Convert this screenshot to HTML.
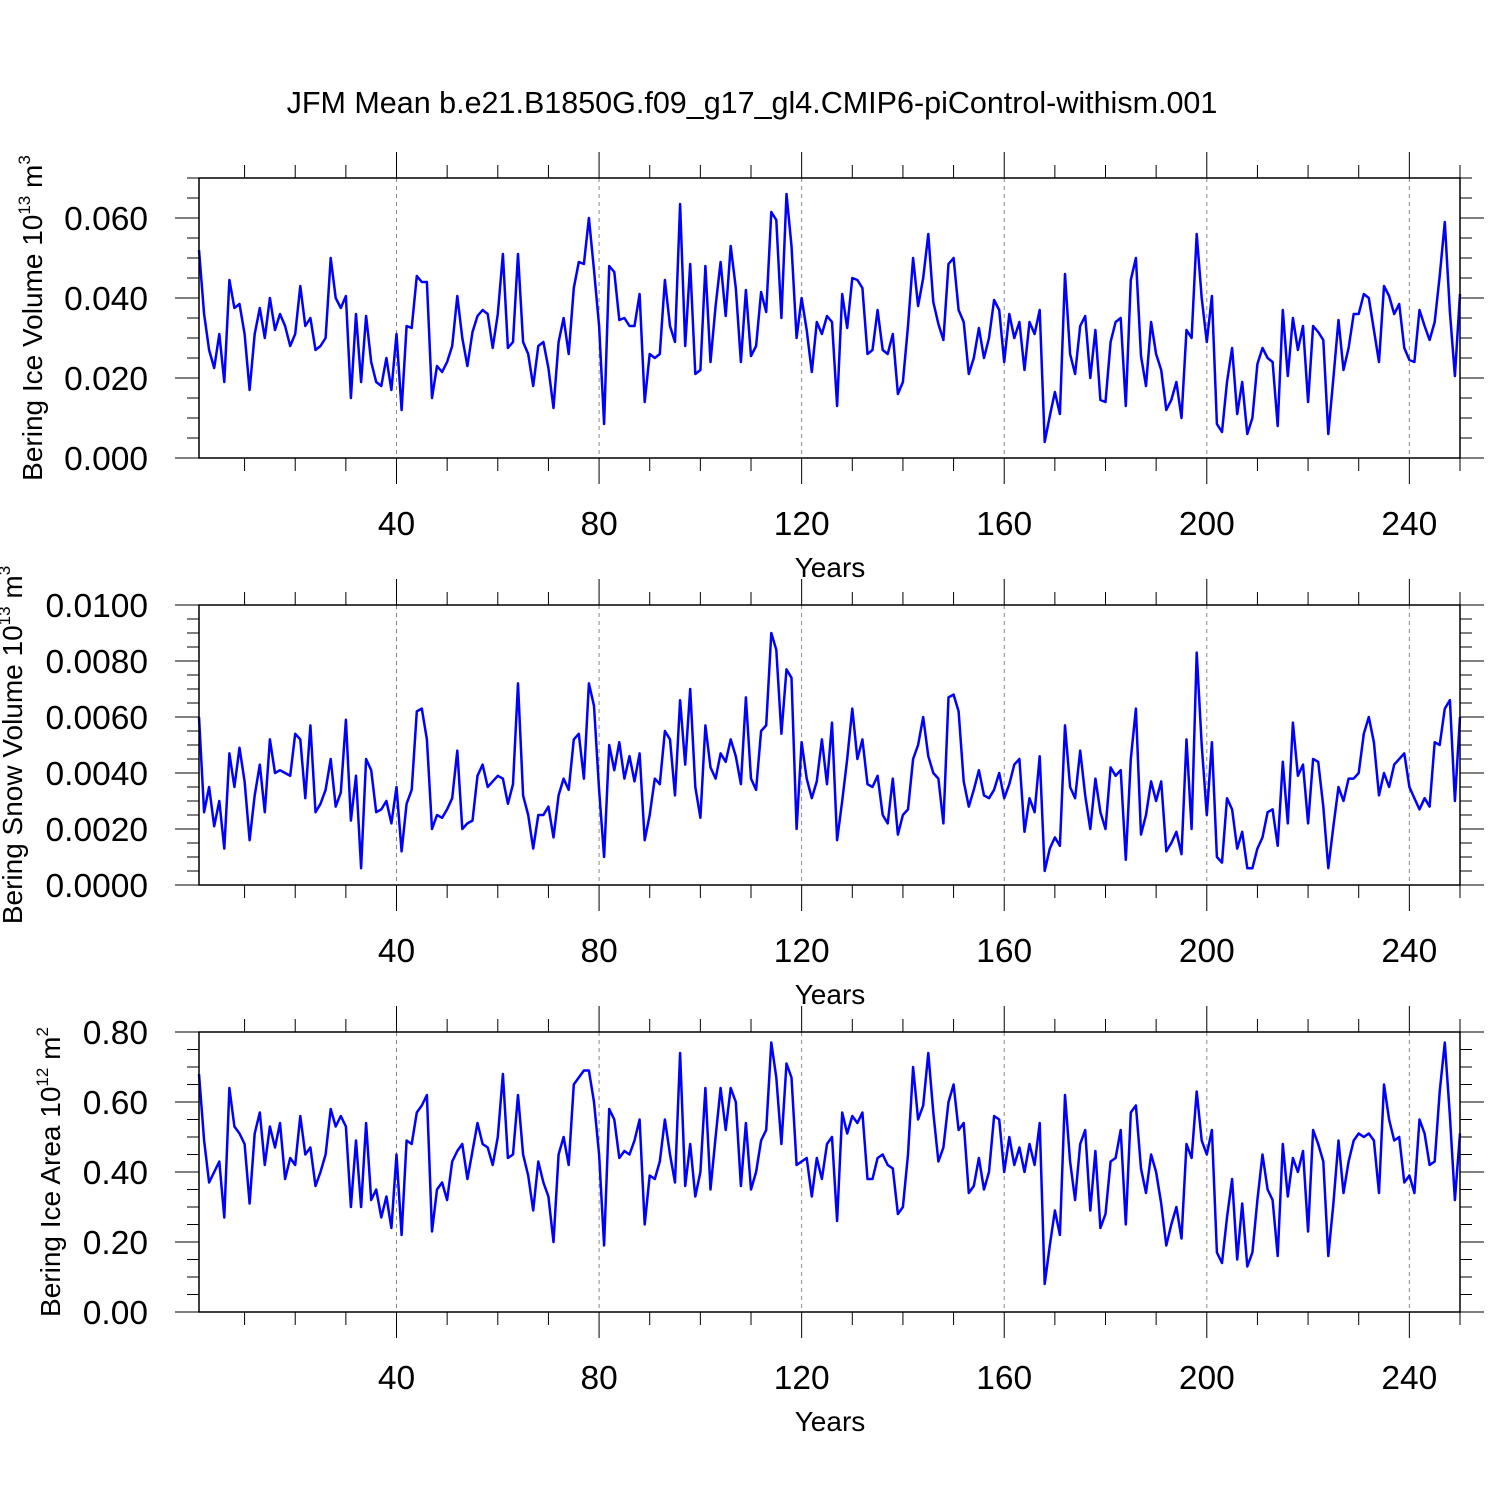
<!DOCTYPE html>
<html><head><meta charset="utf-8"><style>
html,body{margin:0;padding:0;background:#fff}
svg{display:block;font-family:"Liberation Sans",sans-serif}
</style></head><body>
<svg id="chart" width="1500" height="1500" viewBox="0 0 1500 1500">
<rect width="1500" height="1500" fill="#fff"/>
<text x="752" y="113" font-size="30.5" text-anchor="middle">JFM Mean b.e21.B1850G.f09_g17_gl4.CMIP6-piControl-withism.001</text>
</svg>
<script>
const iceVolume=[0.052,0.036,0.027,0.0225,0.031,0.019,0.0445,0.0375,0.0385,0.031,0.017,0.031,0.0375,0.030,0.040,0.032,0.036,0.033,0.028,0.031,0.043,0.033,0.035,0.027,0.028,0.030,0.050,0.040,0.0375,0.0405,0.015,0.036,0.019,0.0355,0.024,0.019,0.018,0.025,0.017,0.031,0.012,0.033,0.0325,0.0455,0.044,0.044,0.015,0.023,0.0215,0.024,0.028,0.0405,0.030,0.023,0.0315,0.0355,0.037,0.036,0.0275,0.036,0.051,0.0275,0.029,0.051,0.029,0.026,0.018,0.028,0.029,0.0225,0.0125,0.029,0.035,0.026,0.0425,0.049,0.0485,0.060,0.047,0.033,0.0085,0.048,0.0465,0.0345,0.035,0.033,0.033,0.041,0.014,0.026,0.025,0.026,0.0445,0.033,0.029,0.0635,0.028,0.0485,0.021,0.022,0.048,0.024,0.038,0.049,0.0355,0.053,0.0425,0.024,0.042,0.0255,0.028,0.0415,0.0365,0.0615,0.0595,0.035,0.066,0.053,0.030,0.040,0.032,0.0215,0.034,0.031,0.0355,0.034,0.013,0.041,0.0325,0.045,0.0445,0.0425,0.026,0.027,0.037,0.027,0.026,0.031,0.016,0.019,0.033,0.050,0.038,0.045,0.056,0.039,0.0335,0.0295,0.0485,0.050,0.037,0.034,0.021,0.025,0.0325,0.025,0.030,0.0395,0.037,0.024,0.036,0.030,0.034,0.022,0.034,0.031,0.037,0.004,0.0105,0.0165,0.011,0.046,0.026,0.021,0.033,0.0355,0.020,0.032,0.0145,0.014,0.029,0.034,0.035,0.013,0.0445,0.050,0.0255,0.018,0.034,0.026,0.022,0.012,0.0145,0.019,0.010,0.032,0.030,0.056,0.040,0.029,0.0405,0.0085,0.0065,0.019,0.0275,0.011,0.019,0.006,0.010,0.0235,0.0275,0.025,0.024,0.008,0.037,0.0205,0.035,0.027,0.033,0.014,0.033,0.0315,0.0295,0.006,0.020,0.0345,0.022,0.0275,0.036,0.036,0.041,0.040,0.032,0.024,0.043,0.0405,0.036,0.0385,0.0275,0.0245,0.024,0.037,0.033,0.0295,0.034,0.0455,0.059,0.0365,0.0205,0.041];
const snowVolume=[6.0,2.6,3.5,2.1,3.0,1.3,4.7,3.5,4.9,3.7,1.6,3.2,4.3,2.6,5.2,4.0,4.1,4.0,3.9,5.4,5.2,3.1,5.7,2.6,2.9,3.4,4.5,2.8,3.3,5.9,2.3,3.9,0.6,4.5,4.1,2.6,2.7,3.0,2.2,3.5,1.2,2.9,3.4,6.2,6.3,5.2,2.0,2.5,2.4,2.7,3.1,4.8,2.0,2.2,2.3,3.9,4.3,3.5,3.7,3.9,3.8,2.9,3.6,7.2,3.2,2.5,1.3,2.5,2.5,2.8,1.7,3.2,3.8,3.4,5.2,5.4,3.8,7.2,6.4,3.4,1.0,5.0,4.1,5.1,3.8,4.6,3.7,4.7,1.6,2.5,3.8,3.6,5.5,5.2,3.2,6.6,4.3,7.0,3.5,2.4,5.7,4.2,3.8,4.7,4.4,5.2,4.6,3.6,6.7,3.8,3.4,5.5,5.7,9.0,8.4,5.4,7.7,7.4,2.0,5.1,3.8,3.1,3.7,5.2,3.6,5.8,1.6,3.0,4.5,6.3,4.5,5.2,3.6,3.5,3.9,2.5,2.2,3.8,1.8,2.5,2.7,4.5,5.0,6.0,4.6,4.0,3.8,2.2,6.7,6.8,6.2,3.7,2.8,3.4,4.1,3.2,3.1,3.4,4.0,3.1,3.6,4.3,4.5,1.9,3.1,2.6,4.6,0.5,1.3,1.7,1.4,5.7,3.5,3.1,4.8,3.2,2.0,3.8,2.6,2.0,4.2,3.9,4.1,0.9,4.5,6.3,1.8,2.5,3.7,3.0,3.7,1.2,1.5,1.9,1.1,5.2,2.0,8.3,5.0,2.5,5.1,1.0,0.8,3.1,2.7,1.3,1.9,0.6,0.6,1.3,1.7,2.6,2.7,1.4,4.4,2.2,5.8,3.9,4.3,2.2,4.5,4.4,2.8,0.6,2.1,3.5,3.0,3.8,3.8,4.0,5.4,6.0,5.1,3.2,4.0,3.5,4.3,4.5,4.7,3.5,3.1,2.7,3.1,2.8,5.1,5.0,6.3,6.6,3.0,6.0].map(v=>v/1000);
const iceArea=[0.68,0.49,0.37,0.40,0.43,0.27,0.64,0.53,0.51,0.48,0.31,0.51,0.57,0.42,0.53,0.47,0.54,0.38,0.44,0.42,0.56,0.45,0.47,0.36,0.40,0.45,0.58,0.53,0.56,0.53,0.30,0.49,0.30,0.54,0.32,0.35,0.27,0.33,0.24,0.45,0.22,0.49,0.48,0.57,0.59,0.62,0.23,0.35,0.37,0.32,0.43,0.46,0.48,0.38,0.46,0.54,0.48,0.47,0.42,0.50,0.68,0.44,0.45,0.62,0.45,0.39,0.29,0.43,0.37,0.33,0.20,0.45,0.50,0.42,0.65,0.67,0.69,0.69,0.60,0.45,0.19,0.58,0.55,0.44,0.46,0.45,0.49,0.55,0.25,0.39,0.38,0.43,0.55,0.45,0.37,0.74,0.36,0.48,0.33,0.40,0.64,0.35,0.50,0.64,0.52,0.64,0.60,0.36,0.54,0.35,0.40,0.49,0.52,0.77,0.67,0.48,0.71,0.67,0.42,0.43,0.44,0.33,0.44,0.38,0.48,0.50,0.26,0.57,0.51,0.56,0.54,0.57,0.38,0.38,0.44,0.45,0.42,0.41,0.28,0.30,0.45,0.70,0.55,0.59,0.74,0.57,0.43,0.47,0.60,0.65,0.52,0.54,0.34,0.36,0.44,0.35,0.40,0.56,0.55,0.40,0.50,0.42,0.47,0.40,0.48,0.42,0.54,0.08,0.19,0.29,0.22,0.62,0.43,0.32,0.48,0.52,0.29,0.46,0.24,0.28,0.43,0.44,0.52,0.25,0.57,0.59,0.41,0.34,0.45,0.40,0.31,0.19,0.25,0.30,0.21,0.48,0.44,0.63,0.49,0.45,0.52,0.17,0.14,0.27,0.38,0.15,0.31,0.13,0.17,0.32,0.45,0.35,0.32,0.16,0.48,0.33,0.44,0.40,0.46,0.23,0.52,0.48,0.43,0.16,0.31,0.49,0.34,0.43,0.49,0.51,0.50,0.51,0.49,0.34,0.65,0.55,0.49,0.50,0.37,0.39,0.34,0.55,0.51,0.42,0.43,0.63,0.77,0.56,0.32,0.51];
const xTickLabels=["40","80","120","160","200","240"];
const xTickYears=[40,80,120,160,200,240];
const yTicks1=["0.000","0.020","0.040","0.060"];
const yTicks2=["0.0000","0.0020","0.0040","0.0060","0.0080","0.0100"];
const yTicks3=["0.00","0.20","0.40","0.60","0.80"];

const NS="http://www.w3.org/2000/svg";
const svg=document.getElementById('chart');
function mk(tag,attrs,parent){const e=document.createElementNS(NS,tag);for(const k in attrs)e.setAttribute(k,attrs[k]);(parent||svg).appendChild(e);return e;}
const X0=199,X1=1460;
function panel(name,top,values,ymax,minorStep,ticks,titleParts,titleX){
  const bot=top+280;
  const n=values.length;
  const xs=yr=>X0+(yr-1)*(X1-X0)/(n-1);
  const ys=v=>bot-v/ymax*280;
  const g=mk('g',{});
  
  
  xTickYears.forEach(yr=>{const l=mk('line',{x1:xs(yr),x2:xs(yr),y1:top,y2:bot,stroke:'#888','stroke-width':1,'stroke-dasharray':'4,4'},g);
    });
  for(let yr=10;yr<=250;yr+=10){const major=yr%40===0;const len=major?26:13;
    mk('line',{x1:xs(yr),x2:xs(yr),y1:top,y2:top-len,stroke:'#000','stroke-width':1},g);
    mk('line',{x1:xs(yr),x2:xs(yr),y1:bot,y2:bot+len,stroke:'#000','stroke-width':1},g);}
  const tickVals=ticks.map(t=>parseFloat(t));
  const majorStep=tickVals[1]-tickVals[0];
  const nMinor=Math.round(ymax/minorStep);
  const majorEvery=Math.round(majorStep/minorStep);
  for(let k=0;k<=nMinor;k++){const y=ys(k*minorStep);const major=k%majorEvery===0;const len=major?24:12;
    mk('line',{x1:X0,x2:X0-len,y1:y,y2:y,stroke:'#000','stroke-width':1},g);
    mk('line',{x1:X1,x2:X1+len,y1:y,y2:y,stroke:'#000','stroke-width':1},g);}
  ticks.forEach((t,i)=>{const tx=mk('text',{x:148,y:ys(tickVals[i])+12,'font-size':33.5,'text-anchor':'end'},g);tx.textContent=t;
    });
  xTickLabels.forEach((t,i)=>{const tx=mk('text',{x:xs(xTickYears[i]),y:bot+77,'font-size':33.5,'text-anchor':'middle'},g);tx.textContent=t;
    });
  const xt=mk('text',{x:830,y:bot+119,'font-size':28,'text-anchor':'middle'},g);xt.textContent='Years';
  
  const yt=mk('text',{transform:`translate(${titleX},${top+140}) rotate(-90)`,'font-size':28,'text-anchor':'middle'},g);
  
  const s1=mk('tspan',{},yt);s1.textContent=titleParts[0];
  const s2=mk('tspan',{dy:-12,'font-size':17},yt);s2.textContent=titleParts[1];
  const s3=mk('tspan',{dy:12},yt);s3.textContent=' '+titleParts[2];
  const s4=mk('tspan',{dy:-12,'font-size':17},yt);s4.textContent=titleParts[3];
  const pts=values.map((v,i)=>xs(i+1).toFixed(1)+','+ys(v).toFixed(1)).join(' ');
  const pl=mk('polyline',{points:pts,fill:'none',stroke:'#0000ff','stroke-width':2.5,'stroke-linejoin':'round'},g);
  
  const fr=mk('rect',{x:X0,y:top,width:X1-X0,height:280,fill:'none',stroke:'#000','stroke-width':1.5},g);
  
}
panel('ice-volume',178,iceVolume,0.07,0.005,yTicks1,["Bering Ice Volume 10","13"," m","3"],42);
panel('snow-volume',605,snowVolume,0.01,0.0005,yTicks2,["Bering Snow Volume 10","13"," m","3"],22);
panel('ice-area',1032,iceArea,0.8,0.05,yTicks3,["Bering Ice Area 10","12"," m","2"],60);
</script>
</body></html>
